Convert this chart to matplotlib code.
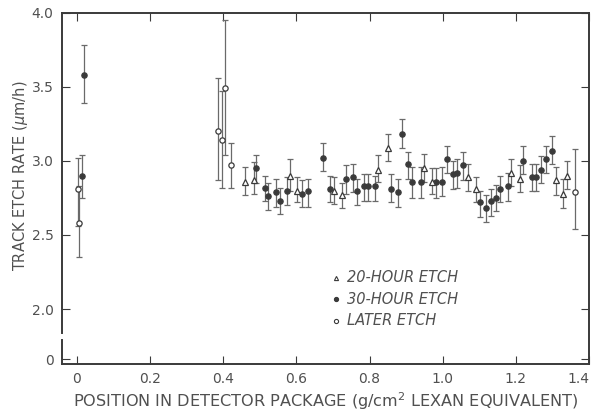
import numpy as np
import matplotlib.pyplot as plt

# data: position (g/cm^2), rate, lower and upper end of error bar
later_x = [0.003, 0.006, 0.385, 0.397, 0.405, 0.420, 1.361]
later_y = [2.81, 2.58, 3.20, 3.14, 3.49, 2.97, 2.79]
later_lo = [2.56, 2.35, 2.87, 2.82, 3.04, 2.82, 2.54]
later_hi = [3.02, 2.83, 3.56, 3.47, 3.95, 3.12, 3.08]

h30_x = [0.014, 0.019, 0.490, 0.515, 0.522, 0.545, 0.554, 0.573, 0.614, 0.633,
         0.674, 0.692, 0.735, 0.754, 0.767, 0.785, 0.796, 0.815, 0.858, 0.879,
         0.888, 0.906, 0.917, 0.940, 0.983, 0.999, 1.013, 1.028, 1.040, 1.056,
         1.102, 1.117, 1.131, 1.147, 1.156, 1.178, 1.220, 1.244, 1.254, 1.270,
         1.281, 1.299]
h30_y = [2.90, 3.58, 2.95, 2.82, 2.76, 2.79, 2.73, 2.80, 2.78, 2.80,
         3.02, 2.81, 2.88, 2.89, 2.80, 2.83, 2.83, 2.83, 2.81, 2.79,
         3.18, 2.98, 2.86, 2.86, 2.86, 2.86, 3.01, 2.91, 2.92, 2.97,
         2.72, 2.68, 2.73, 2.75, 2.81, 2.83, 3.00, 2.89, 2.89, 2.94,
         3.01, 3.07]
h30_lo = [2.75, 3.39, 2.85, 2.73, 2.67, 2.69, 2.64, 2.70, 2.69, 2.69,
          2.93, 2.72, 2.78, 2.79, 2.70, 2.73, 2.73, 2.73, 2.72, 2.69,
          3.09, 2.88, 2.75, 2.75, 2.75, 2.76, 2.92, 2.81, 2.82, 2.87,
          2.62, 2.59, 2.63, 2.66, 2.72, 2.73, 2.91, 2.80, 2.80, 2.85,
          2.92, 2.98]
h30_hi = [3.04, 3.78, 3.04, 2.90, 2.85, 2.88, 2.82, 2.89, 2.87, 2.88,
          3.12, 2.90, 2.97, 2.98, 2.88, 2.91, 2.91, 2.90, 2.91, 2.88,
          3.28, 3.06, 2.96, 2.96, 2.95, 2.96, 3.10, 3.00, 3.01, 3.06,
          2.80, 2.77, 2.81, 2.84, 2.90, 2.92, 3.10, 2.98, 2.98, 3.03,
          3.10, 3.17]

h20_x = [0.460, 0.483, 0.583, 0.603, 0.702, 0.726, 0.824, 0.851, 0.949, 0.972,
         1.070, 1.092, 1.188, 1.210, 1.310, 1.329, 1.340]
h20_y = [2.86, 2.87, 2.90, 2.80, 2.80, 2.77, 2.94, 3.09, 2.95, 2.86,
         2.89, 2.81, 2.92, 2.88, 2.87, 2.78, 2.90]
h20_lo = [2.77, 2.78, 2.80, 2.72, 2.71, 2.68, 2.86, 3.00, 2.86, 2.78,
          2.80, 2.72, 2.83, 2.79, 2.77, 2.68, 2.81]
h20_hi = [2.96, 2.99, 3.01, 2.89, 2.89, 2.85, 3.04, 3.18, 3.05, 2.95,
          2.98, 2.89, 3.01, 2.97, 2.96, 2.88, 3.00]

x_ticks = [0, 0.2, 0.4, 0.6, 0.8, 1.0, 1.2, 1.4]
x_labels = ["0", "0.2", "0.4", "0.6", "0.8", "1.0", "1.2", "1.4"]
y_ticks = [1.66, 2.0, 2.5, 3.0, 3.5, 4.0]   # "0" sits below the axis break
y_labels = ["0", "2.0", "2.5", "3.0", "3.5", "4.0"]

legend_labels = ["20-HOUR ETCH", "30-HOUR ETCH", "LATER ETCH"]

ink = "#3a3a3a"
text_col = "#505050"
plt.rcParams['font.family'] = ['DejaVu Sans']

fig = plt.figure(figsize=(5.95, 4.13), dpi=100)
ax = fig.add_axes([0.104, 0.119, 0.886, 0.850])


def draw_series(x, y, lo, hi, marker, face):
    y = np.array(y)
    yerr = [y - np.array(lo), np.array(hi) - y]
    ax.errorbar(x, y, yerr=yerr, fmt=marker, ms=3.8, mfc=face, mec=ink, mew=0.9,
                ecolor="#6a6a6a", elinewidth=0.9, capsize=2, capthick=0.9, zorder=3)


draw_series(later_x, later_y, later_lo, later_hi, "o", "white")
draw_series(h30_x, h30_y, h30_lo, h30_hi, "o", ink)
draw_series(h20_x, h20_y, h20_lo, h20_hi, "^", "white")

ax.set_xlim(-0.041, 1.396)
ax.set_ylim(1.63, 4.0)

ax.set_xticks(x_ticks)
ax.set_xticklabels(x_labels)
ax.set_yticks(y_ticks)
ax.set_yticklabels(y_labels)
ax.tick_params(direction="in", length=6, width=0.8, color=ink, labelcolor=text_col,
               labelsize=10, top=True, right=True, pad=6)
# last x label would run off the figure edge
ax.get_xticklabels()[-1].set_horizontalalignment("right")

for side in ["top", "right", "bottom"]:
    ax.spines[side].set_color(ink)
    ax.spines[side].set_linewidth(1.4)
ax.spines["left"].set_visible(False)

# left spine with a break between 0 and 2.0
tr = ax.get_yaxis_transform()
ax.plot([0, 0], [1.63, 1.79], color=ink, lw=1.4, transform=tr, clip_on=False)
ax.plot([0, 0], [1.84, 4.0], color=ink, lw=1.4, transform=tr, clip_on=False)

ax.set_xlabel("POSITION IN DETECTOR PACKAGE (g/cm$^2$ LEXAN EQUIVALENT)",
              color=text_col, fontsize=11.6, labelpad=3)
fig.text(0.034, 0.575, "TRACK ETCH RATE ($\\mu$m/h)", rotation=90, color=text_col,
         fontsize=10.5, ha="center", va="center")

# legend written into the plot area
leg_marks = [("^", "white"), ("o", ink), ("o", "white")]
leg_y = [2.21, 2.065, 1.92]
for (m, face), label, yy in zip(leg_marks, legend_labels, leg_y):
    ax.plot([0.709], [yy], marker=m, ms=3.0, mfc=face, mec=ink, mew=0.8, ls="none")
    ax.text(0.739, yy, label, style="italic", color=text_col, fontsize=10.5, va="center")

fig.savefig("out.png", dpi=100)
